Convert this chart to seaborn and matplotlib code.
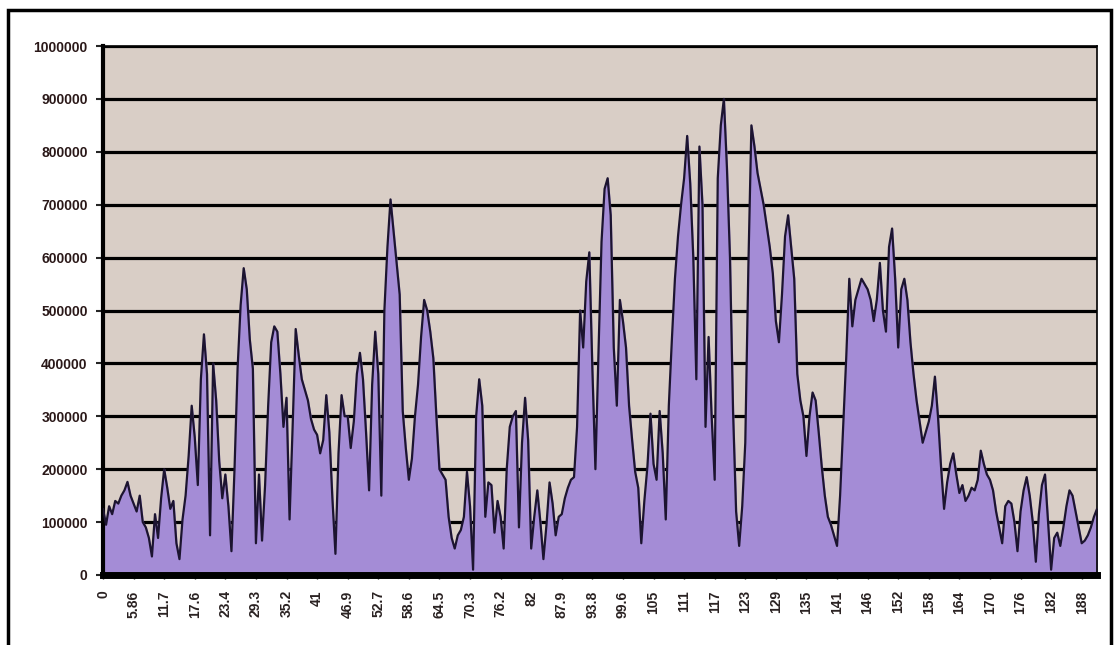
import numpy as np
import pandas as pd
import matplotlib.pyplot as plt
import seaborn as sns
from matplotlib.patches import Rectangle

# amplitude, in thousands, 10 samples per labelled step
amp_part1 = [125, 95, 130, 115, 140, 135, 150, 160, 176, 150,
             135, 120, 150, 100, 90, 70, 35, 115, 70, 145,
             200, 165, 125, 140, 60, 30, 105, 150, 225, 320,
             260, 170, 370, 455, 380, 75, 400, 330, 215, 145,
             190, 130, 45, 200, 390, 510, 580, 540, 445, 390,
             60, 190, 65, 170, 320, 440, 470, 460, 380, 280,
             335, 105, 280, 465, 415, 370, 350, 330, 295, 275,
             265, 230, 255, 340, 270, 145, 40, 230, 340, 300]
amp_part2 = [300, 240, 290, 380, 420, 370, 270, 160, 360, 460,
             380, 150, 500, 620, 710, 650, 590, 530, 310, 240,
             180, 220, 300, 360, 450, 520, 500, 460, 410, 300,
             200, 190, 180, 110, 70, 50, 75, 85, 110, 195,
             130, 10, 300, 370, 320, 110, 175, 170, 80, 140,
             110, 50, 200, 280, 300, 310, 90, 250, 335, 255,
             50, 110, 160, 100, 30, 95, 175, 135, 75, 110,
             115, 145, 165, 180, 185, 280, 500, 430, 555, 610]
amp_part3 = [390, 200, 420, 630, 730, 750, 680, 430, 320, 520,
             480, 430, 320, 255, 195, 165, 60, 140, 205, 305,
             210, 180, 310, 230, 105, 320, 445, 560, 640, 700,
             750, 830, 740, 600, 370, 810, 700, 280, 450, 300,
             180, 750, 850, 900, 770, 600, 310, 120, 55, 130,
             250, 580, 850, 810, 760, 730, 700, 660, 620, 570,
             480, 440, 530, 640, 680, 620, 560, 380, 330, 300,
             225, 300, 345, 330, 270, 205, 150, 110, 95, 75]
amp_part4 = [55, 150, 280, 410, 560, 470, 520, 540, 560, 550,
             540, 520, 480, 520, 590, 500, 460, 620, 655, 560,
             430, 540, 560, 520, 440, 380, 330, 290, 250, 270,
             290, 320, 375, 300, 205, 125, 175, 210, 230, 190,
             155, 170, 140, 150, 165, 160, 180, 235, 210, 190,
             180, 160, 120, 90, 60, 130, 140, 135, 100, 45,
             120, 160, 185, 150, 100, 25, 115, 170, 190, 100,
             10, 70, 80, 55, 90, 130, 160, 150, 120, 90,
             60, 65, 75, 90, 110, 125]

x_labels = ['0', '5.86', '11.7', '17.6', '23.4', '29.3', '35.2', '41', '46.9',
            '52.7', '58.6', '64.5', '70.3', '76.2', '82', '87.9', '93.8', '99.6',
            '105', '111', '117', '123', '129', '135', '141', '146', '152', '158',
            '164', '170', '176', '182', '188']
y_ticks = [0, 100000, 200000, 300000, 400000, 500000, 600000, 700000, 800000,
           900000, 1000000]

amp = np.array(amp_part1 + amp_part2 + amp_part3 + amp_part4) * 1000
df = pd.DataFrame({'idx': np.arange(len(amp)), 'amp': amp})

sns.set_style('white')
plt.rcParams['font.family'] = ['Liberation Sans', 'DejaVu Sans']

fig = plt.figure(figsize=(11.15, 6.45), dpi=100)
ax = fig.add_axes([103 / 1115, 70 / 645, 994 / 1115, 529 / 645])
ax.set_facecolor('#d9cec6')

ax.fill_between(df['idx'], df['amp'], color='#a48cd6', zorder=2)
sns.lineplot(data=df, x='idx', y='amp', ax=ax, color='#1c1430', lw=1.6, zorder=3)

for v in y_ticks[1:]:
    ax.axhline(v, color='black', lw=2.3, zorder=1)

ax.set_xlim(0, len(amp) - 1)
ax.set_ylim(0, 1000000)
ax.set_xticks(np.arange(0, len(amp), 10)[:len(x_labels)])
ax.set_xticklabels(x_labels, rotation=90, fontsize=10, fontweight='bold',
                   color='#2a2222')
ax.set_yticks(y_ticks)
ax.set_yticklabels([str(v) for v in y_ticks], fontsize=10, fontweight='bold',
                   color='#2a1818')
ax.tick_params(axis='y', length=5, width=1.5, pad=6, direction='out', left=True)
ax.tick_params(axis='x', length=3, width=1, pad=8, direction='out', bottom=True)
ax.set_xlabel('')
ax.set_ylabel('')

for side in ['top', 'right']:
    ax.spines[side].set_color('black')
    ax.spines[side].set_linewidth(1.2)
ax.spines['left'].set_color('black')
ax.spines['left'].set_linewidth(3)
ax.spines['bottom'].set_color('black')
ax.spines['bottom'].set_linewidth(5)

fig.patches.append(Rectangle((8 / 1115, -0.02), 1103 / 1115, 635 / 645 + 0.02,
                             transform=fig.transFigure, fill=False,
                             edgecolor='black', lw=2.5))

fig.savefig('out.png', dpi=100)
